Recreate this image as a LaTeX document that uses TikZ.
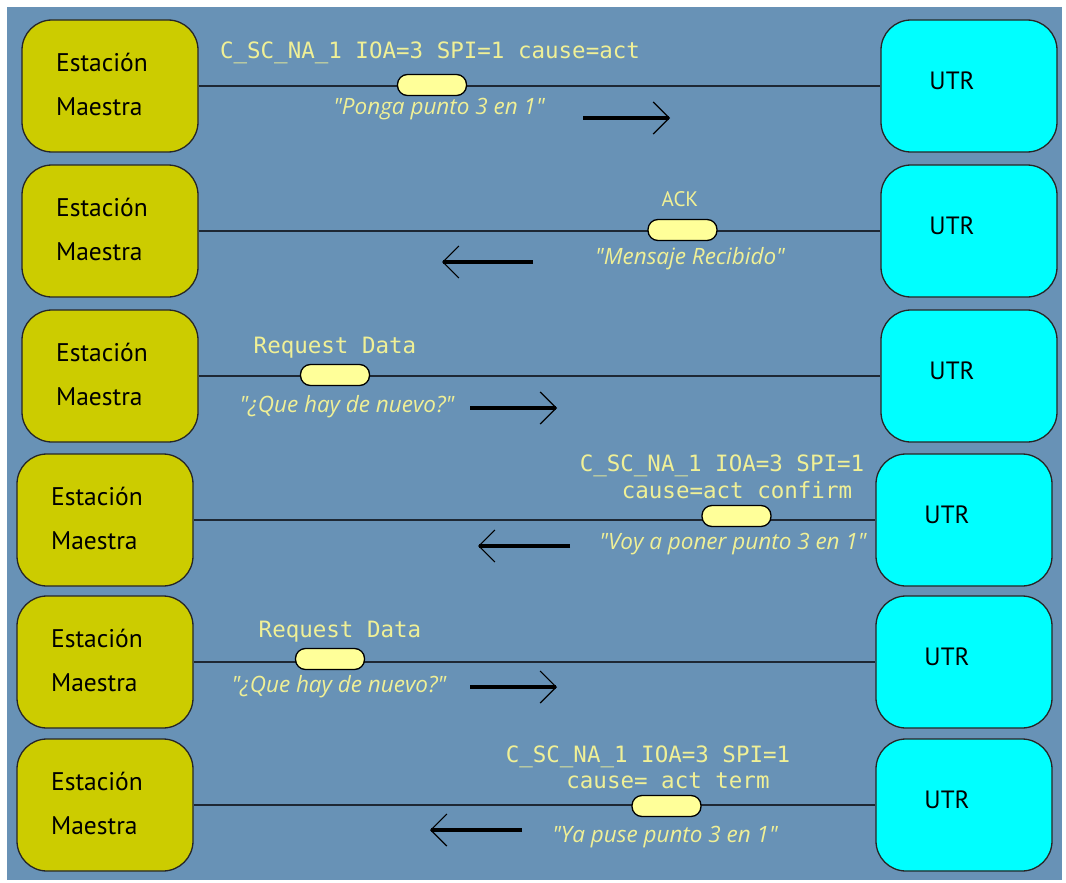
\documentclass[tikz,border=0pt]{standalone}
\usepackage{fontspec}
\setmainfont{PT Sans}
\newfontfamily\msgfont{DejaVu Sans Mono}
\newfontfamily\notefont{Open Sans}
\usetikzlibrary{arrows.meta}

\definecolor{panel}{RGB}{104,146,182}
\definecolor{masterfill}{RGB}{204,204,0}
\definecolor{rtufill}{RGB}{0,255,255}
\definecolor{pillfill}{RGB}{255,255,153}
\definecolor{msgtext}{RGB}{240,240,150}
\definecolor{wire}{RGB}{30,40,52}

\tikzset{
  station/.style={draw=black!85, line width=1.3pt, rounded corners=30pt,
    minimum width=176pt, minimum height=132pt, inner sep=0pt},
  master/.style={station, fill=masterfill},
  rtu/.style={station, fill=rtufill},
  mastertext/.style={align=left, inner sep=0pt, text=black,
    font=\fontsize{25.5}{44}\selectfont},
  rtutext/.style={inner sep=0pt, text=black, font=\fontsize{25}{28}\selectfont},
  link/.style={draw=wire, line width=1.6pt},
  pill/.style={draw=black, line width=1.3pt, fill=pillfill, rounded corners=10pt,
    minimum width=69pt, minimum height=21pt, inner sep=0pt},
  msg/.style={text=msgtext, inner sep=0pt, align=left,
    font=\msgfont\fontsize{22.5}{24}\selectfont},
  acklabel/.style={text=msgtext, inner sep=0pt, font=\fontsize{21}{24}\selectfont},
  note/.style={text=msgtext, inner sep=0pt,
    font=\notefont\itshape\fontsize{22.5}{24}\selectfont},
  flow/.style={draw=black, line width=3.5pt,
    -{Straight Barb[length=16pt, width=32pt, line width=1.2pt]}},
}

\begin{document}
\begin{tikzpicture}[x=1pt, y=-1pt]
  \useasboundingbox (0,0) rectangle (1066,883);
  \fill[panel] (7,7) rectangle (1062,880);

  % ---------- row 1 ----------
  \node[master] (m1) at (110,86) {};
  \node[mastertext] (mt1) at (102,84) {Estación\\Maestra};
  \node[rtu] (u1) at (969,86) {};
  \node[rtutext] (ut1) at (952,81) {UTR};
  \draw[link] (m1.east) -- (u1.west);
  \node[pill] (p1) at (432,85) {};
  \node[msg] (t1) at (430,53) {C\_SC\_NA\_1 IOA=3 SPI=1 cause=act};
  \node[note] (n1) at (439,109) {"Ponga punto 3 en 1"};
  \coordinate (a1s) at (583,118);
  \coordinate (a1e) at (670,118);
  \draw[flow] (a1s) -- (a1e);

  % ---------- row 2 ----------
  \node[master] (m2) at (110,231) {};
  \node[mastertext] (mt2) at (102,229) {Estación\\Maestra};
  \node[rtu] (u2) at (969,231) {};
  \node[rtutext] (ut2) at (952,226) {UTR};
  \draw[link] (m2.east) -- (u2.west);
  \node[pill] (p2) at (682.5,230) {};
  \node[acklabel] (t2) at (680,199) {ACK};
  \node[note] (n2) at (690,259) {"Mensaje Recibido"};
  \coordinate (a2s) at (533,262);
  \coordinate (a2e) at (442,262);
  \draw[flow] (a2s) -- (a2e);

  % ---------- row 3 ----------
  \node[master] (m3) at (110,376) {};
  \node[mastertext] (mt3) at (102,374) {Estación\\Maestra};
  \node[rtu] (u3) at (969,376) {};
  \node[rtutext] (ut3) at (952,371) {UTR};
  \draw[link] (m3.east) -- (u3.west);
  \node[pill] (p3) at (335,375) {};
  \node[msg] (t3) at (335,348) {Request Data};
  \node[note] (n3) at (347,407) {"¿Que hay de nuevo?"};
  \coordinate (a3s) at (470,408);
  \coordinate (a3e) at (557,408);
  \draw[flow] (a3s) -- (a3e);

  % ---------- row 4 ----------
  \node[master] (m4) at (105,520) {};
  \node[mastertext] (mt4) at (97,518) {Estación\\Maestra};
  \node[rtu] (u4) at (964,520) {};
  \node[rtutext] (ut4) at (947,515) {UTR};
  \draw[link] (m4.east) -- (u4.west);
  \node[pill] (p4) at (736.5,516) {};
  \node[msg] (t4a) at (722,466) {C\_SC\_NA\_1 IOA=3 SPI=1};
  \node[msg] (t4b) at (737,490) {cause=act confirm};
  \node[note] (n4) at (733,544) {"Voy a poner punto 3 en 1"};
  \coordinate (a4s) at (570,546);
  \coordinate (a4e) at (478,546);
  \draw[flow] (a4s) -- (a4e);

  % ---------- row 5 ----------
  \node[master] (m5) at (105,662) {};
  \node[mastertext] (mt5) at (97,660) {Estación\\Maestra};
  \node[rtu] (u5) at (964,662) {};
  \node[rtutext] (ut5) at (947,657) {UTR};
  \draw[link] (m5.east) -- (u5.west);
  \node[pill] (p5) at (330,659) {};
  \node[msg] (t5) at (340,632) {Request Data};
  \node[note] (n5) at (339,687) {"¿Que hay de nuevo?"};
  \coordinate (a5s) at (470,687);
  \coordinate (a5e) at (557,687);
  \draw[flow] (a5s) -- (a5e);

  % ---------- row 6 ----------
  \node[master] (m6) at (105,805) {};
  \node[mastertext] (mt6) at (97,803) {Estación\\Maestra};
  \node[rtu] (u6) at (964,805) {};
  \node[rtutext] (ut6) at (947,800) {UTR};
  \draw[link] (m6.east) -- (u6.west);
  \node[pill] (p6) at (666.5,806) {};
  \node[msg] (t6a) at (648,757) {C\_SC\_NA\_1 IOA=3 SPI=1};
  \node[msg] (t6b) at (668,781) {cause= act term};
  \node[note] (n6) at (665,837) {"Ya puse punto 3 en 1"};
  \coordinate (a6s) at (522,830);
  \coordinate (a6e) at (430,830);
  \draw[flow] (a6s) -- (a6e);
\end{tikzpicture}
\end{document}
